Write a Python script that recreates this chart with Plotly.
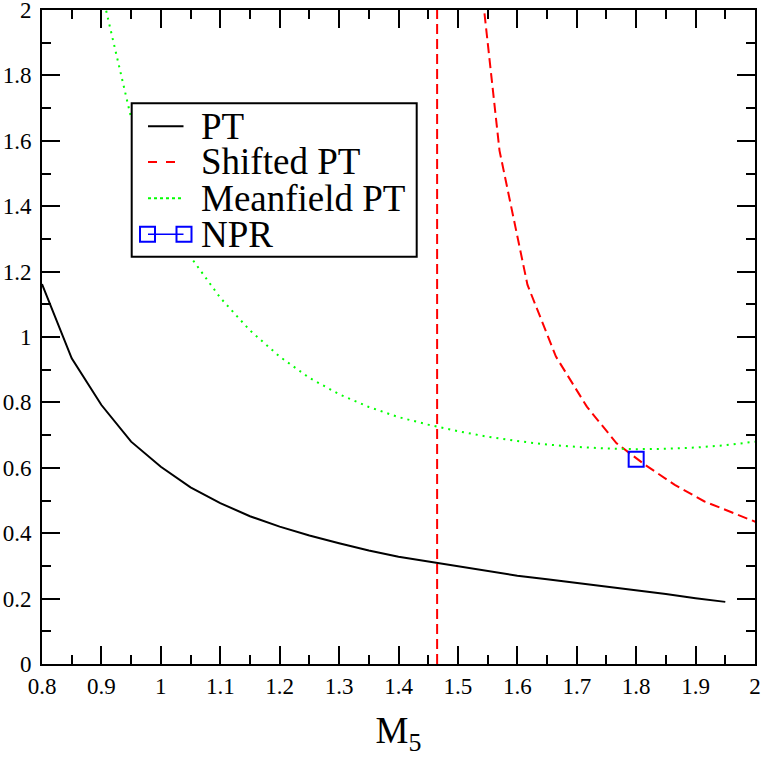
import plotly.graph_objects as go

# ── Data ──────────────────────────────────────────────────────────────────────

PT_X = [0.80, 0.85, 0.90, 0.95, 1.00, 1.05, 1.10, 1.15, 1.20, 1.25, 1.30, 1.35,
        1.40, 1.45, 1.50, 1.55, 1.60, 1.65, 1.70, 1.75, 1.80, 1.85, 1.90, 1.95]
PT_Y = [1.162, 0.935, 0.792, 0.680, 0.603, 0.540, 0.492, 0.452, 0.420, 0.393, 0.369, 0.347,
        0.328, 0.313, 0.298, 0.284, 0.270, 0.259, 0.248, 0.237, 0.226, 0.214, 0.201, 0.190]

SHIFT_X = [1.52, 1.57, 1.617, 1.665, 1.717, 1.767, 1.815, 1.865, 1.915, 1.963, 2.01]
SHIFT_Y = [2.40, 1.57, 1.16, 0.94, 0.787, 0.675, 0.609, 0.548, 0.497, 0.462, 0.428]
SHIFT_POLE = 1.465          # vertical asymptote of the shifted PT curve

MF_X = [0.90, 0.95, 1.00, 1.05, 1.10, 1.15, 1.20, 1.25, 1.30, 1.35, 1.40, 1.45,
        1.50, 1.55, 1.60, 1.65, 1.70, 1.75, 1.80, 1.85, 1.90, 1.95, 2.00]
MF_Y = [2.06, 1.67, 1.42, 1.245, 1.12, 1.02, 0.94, 0.875, 0.825, 0.786, 0.755, 0.732,
        0.712, 0.695, 0.682, 0.671, 0.664, 0.659, 0.657, 0.658, 0.662, 0.669, 0.680]

NPR_X = [1.80]
NPR_Y = [0.626]

X_TICKS = [0.8, 0.9, 1.0, 1.1, 1.2, 1.3, 1.4, 1.5, 1.6, 1.7, 1.8, 1.9, 2.0]
X_LABELS = ["0.8", "0.9", "1", "1.1", "1.2", "1.3", "1.4", "1.5", "1.6", "1.7", "1.8", "1.9", "2"]
Y_TICKS = [0, 0.2, 0.4, 0.6, 0.8, 1.0, 1.2, 1.4, 1.6, 1.8, 2.0]
Y_LABELS = ["0", "0.2", "0.4", "0.6", "0.8", "1", "1.2", "1.4", "1.6", "1.8", "2"]

LEGEND_LABELS = ["PT", "Shifted PT", "Meanfield PT", "NPR"]

# ── Styling ───────────────────────────────────────────────────────────────────

FONT = "Liberation Serif, Times New Roman, serif"
W = H = 763
ML, MR, MT, MB = 42, 8, 10, 99
PW, PH = W - ML - MR, H - MT - MB


def px(xp):   # pixel -> paper x
    return (xp - ML) / PW


def py(yp):   # pixel -> paper y
    return (MT + PH - yp) / PH


RED_DASH = "10px,5px"
GREEN_DOT = "2px,5px"

fig = go.Figure()

fig.add_trace(go.Scatter(x=PT_X, y=PT_Y, mode="lines",
                         line=dict(color="black", width=2), name="PT"))
fig.add_trace(go.Scatter(x=SHIFT_X, y=SHIFT_Y, mode="lines",
                         line=dict(color="#ff0000", width=2, dash=RED_DASH), name="Shifted PT"))
fig.add_trace(go.Scatter(x=[SHIFT_POLE, SHIFT_POLE], y=[0, 2], mode="lines",
                         line=dict(color="#ff0000", width=2, dash=RED_DASH), showlegend=False))
fig.add_trace(go.Scatter(x=MF_X, y=MF_Y, mode="lines",
                         line=dict(color="#00ff00", width=2, dash=GREEN_DOT), name="Meanfield PT"))
fig.add_trace(go.Scatter(x=NPR_X, y=NPR_Y, mode="lines+markers",
                         line=dict(color="#0000ff", width=1.5),
                         marker=dict(symbol="square-open", size=15, color="#0000ff",
                                     line=dict(width=2, color="#0000ff")),
                         name="NPR"))

# ── Hand-drawn legend box (xmgrace style, tight rows) ─────────────────────────

shapes = [dict(type="rect", xref="paper", yref="paper",
               x0=px(131.7), x1=px(416.7), y0=py(256.7), y1=py(103.3),
               line=dict(color="black", width=2), fillcolor="white", layer="above")]
row_y = [126.2, 162.0, 198.3, 234.3]
samples = [("black", None), ("#ff0000", "dash"), ("#00ff00", "dot"), ("#0000ff", None)]
for (col, dash), yp in zip(samples, row_y):
    shapes.append(dict(type="line", xref="paper", yref="paper",
                       x0=px(148), x1=px(183.5), y0=py(yp), y1=py(yp),
                       line=dict(color=col, width=2 if col != "#0000ff" else 1.5, dash=dash),
                       layer="above"))
for cx in (147.5, 184.0):
    shapes.append(dict(type="rect", xref="paper", yref="paper",
                       x0=px(cx - 7.5), x1=px(cx + 7.5),
                       y0=py(row_y[3] + 7.5), y1=py(row_y[3] - 7.5),
                       line=dict(color="#0000ff", width=2), fillcolor="rgba(0,0,0,0)",
                       layer="above"))

annotations = [dict(text=lab, xref="paper", yref="paper", x=px(199), y=py(yp),
                    xanchor="left", yanchor="middle", showarrow=False,
                    font=dict(family=FONT, size=37, color="black"))
               for lab, yp in zip(LEGEND_LABELS, row_y)]

TICKFONT = dict(family=FONT, size=23, color="black")
axis_common = dict(
    showline=True, linecolor="black", linewidth=2, mirror="ticks",
    ticks="inside", ticklen=18, tickwidth=2, tickcolor="black",
    showgrid=False, zeroline=False, automargin=False, ticklabeloverflow="allow",
    tickfont=TICKFONT,
)

fig.update_xaxes(range=[0.8, 2.0], tickmode="array", tickvals=X_TICKS, ticktext=X_LABELS,
                 minor=dict(dtick=0.05, tick0=0.8, ticks="inside", ticklen=9, tickwidth=2,
                            tickcolor="black", showgrid=False),
                 title=dict(text="M<sub>5</sub>", font=dict(family=FONT, size=37, color="black"),
                            standoff=20),
                 **axis_common)
fig.update_yaxes(range=[0, 2.0], tickmode="array", tickvals=Y_TICKS, ticktext=Y_LABELS,
                 ticklabelstandoff=4,
                 minor=dict(dtick=0.1, tick0=0, ticks="inside", ticklen=9, tickwidth=2,
                            tickcolor="black", showgrid=False),
                 **axis_common)

fig.update_layout(
    template="none",
    width=W, height=H,
    margin=dict(l=ML, r=MR, t=MT, b=MB),
    plot_bgcolor="white", paper_bgcolor="white",
    showlegend=False,
    shapes=shapes, annotations=annotations,
    font=dict(family=FONT, size=23, color="black"),
)

# drop the browser's default 8px body margin so the figure sits at the page corner
fig.write_html("out.html", config={"displayModeBar": False},
               post_script="document.body.style.margin = '0';")
